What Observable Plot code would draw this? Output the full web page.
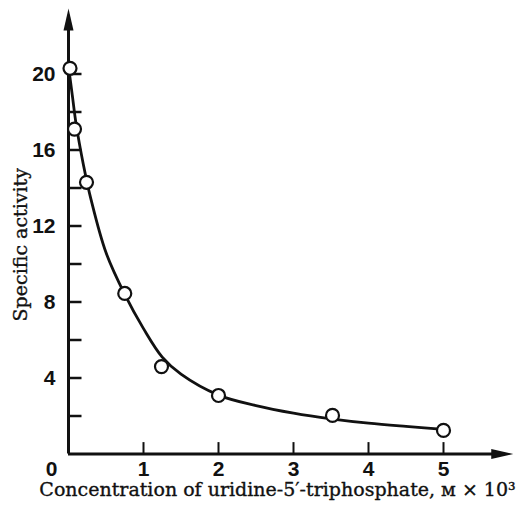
<!DOCTYPE html>
<html>
<head>
<meta charset="utf-8">
<script src="https://cdn.jsdelivr.net/npm/d3@7"></script>
<script src="https://cdn.jsdelivr.net/npm/@observablehq/plot@0.6"></script>
<style>
  html, body { margin: 0; padding: 0; background: #fff; }
</style>
</head>
<body>
<div id="chart"></div>
<script>
// Measured points (concentration ×10³ M, specific activity)
const pointX = [0.02, 0.08, 0.24, 0.75, 1.24, 2.0, 3.52, 5.0];
const pointY = [20.3, 17.1, 14.3, 8.45, 4.6, 3.08, 2.03, 1.24];

// Hand-drawn fitted curve
const curveX = [0.0, 0.05, 0.1, 0.2, 0.3, 0.5, 0.75, 1.0, 1.25, 1.5, 2.0, 2.5, 3.0, 3.5, 4.0, 4.5, 5.0];
const curveY = [20.4, 18.9, 17.4, 15.2, 13.4, 10.6, 8.4, 6.6, 5.1, 4.2, 3.1, 2.55, 2.15, 1.85, 1.62, 1.45, 1.3];

// Axis ticks and labels
const xTicks = [1, 2, 3, 4, 5];
const yTicks = [2, 4, 6, 8, 10, 12, 14, 16, 18, 20];
const yLabels = [4, 8, 12, 16, 20];
const originLabel = ["0"];

const xTitle = "Concentration of uridine-5\u2032-triphosphate, \u1D0D \u00D7 10\u00B3";
const yTitle = "Specific activity";

const points = pointX.map((x, i) => ({x, y: pointY[i]}));
const curve = curveX.map((x, i) => ({x, y: curveY[i]}));

const upHead = {draw(ctx) { ctx.moveTo(0, 0); ctx.lineTo(-5, 22); ctx.lineTo(5, 22); ctx.closePath(); }};
const rightHead = {draw(ctx) { ctx.moveTo(0, 0); ctx.lineTo(-22, -5); ctx.lineTo(-22, 5); ctx.closePath(); }};

const tickFont = {fontFamily: "'Liberation Sans', Arial, sans-serif", fontSize: 21, fontWeight: "bold", fill: "#111"};
const titleFont = {fontFamily: "'DejaVu Serif', 'Liberation Serif', serif", fontSize: 19, fill: "#111", stroke: "#111", strokeWidth: 0.35};

const chart = Plot.plot({
  width: 520,
  height: 508,
  marginLeft: 68,
  marginRight: 2,
  marginTop: 7,
  marginBottom: 54.5,
  x: {domain: [0, 6], axis: null},
  y: {domain: [0, 23.5], axis: null},
  style: {background: "#fff", overflow: "visible"},
  marks: [
    // axes
    Plot.ruleY([0], {x1: 0, x2: 5.75, stroke: "#111", strokeWidth: 3}),
    Plot.ruleX([0], {y1: 0, y2: 22.8, stroke: "#111", strokeWidth: 3}),
    Plot.dot([{x: 0, y: 23.45}], {x: "x", y: "y", symbol: upHead, fill: "#111", stroke: "none"}),
    Plot.dot([{x: 5.93, y: 0}], {x: "x", y: "y", symbol: rightHead, fill: "#111", stroke: "none"}),
    // ticks
    Plot.ruleX(xTicks, {x: d => d, y1: 0, y2: 0.6, stroke: "#111", strokeWidth: 2}),
    Plot.ruleY(yTicks, {y: d => d, x1: 0, x2: 0.18, stroke: "#111", strokeWidth: 2.5}),
    // tick labels
    Plot.text(xTicks, {x: d => d, y: 0, text: d => String(d), dy: 15, ...tickFont}),
    Plot.text(yLabels, {x: 0, y: d => d, text: d => String(d), dx: -13, textAnchor: "end", ...tickFont}),
    Plot.text(originLabel, {x: 0, y: 0, text: d => d, dx: -17, dy: 15, ...tickFont}),
    // curve and points
    Plot.line(curve, {x: "x", y: "y", curve: "catmull-rom", stroke: "#111", strokeWidth: 2.8}),
    Plot.dot(points, {x: "x", y: "y", r: 6.5, fill: "#fff", stroke: "#111", strokeWidth: 2.2}),
    // titles
    Plot.text([xTitle], {frameAnchor: "bottom", textAnchor: "middle", text: d => d, dx: -16, dy: 42, ...titleFont}),
    Plot.text([yTitle], {frameAnchor: "left", textAnchor: "middle", text: d => d, rotate: -90, dx: -48, dy: 14, ...titleFont})
  ]
});

document.getElementById("chart").appendChild(chart);
</script>
</body>
</html>
